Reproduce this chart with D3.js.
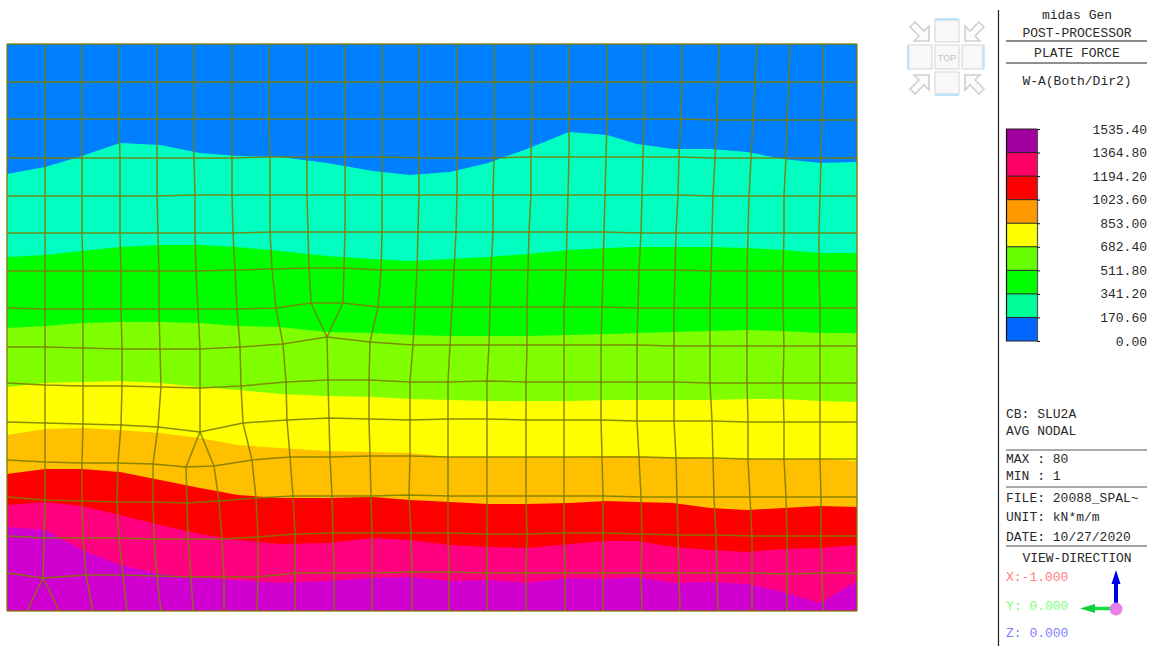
<!DOCTYPE html>
<html>
<head>
<meta charset="utf-8">
<title>midas Gen plate force contour</title>
<script src="https://cdn.jsdelivr.net/npm/d3@7"></script>
<style>
  html, body { margin: 0; padding: 0; background: #fff; }
  svg { display: block; }
  text { font-family: "Liberation Mono", "Courier New", monospace; font-size: 13px; fill: #2a2a2a; }
</style>
</head>
<body>
<div id="chart"></div>
<script>
// Contour bands, top of the plate to the bottom
const bandColors = ['#0080ff', '#00ffc0', '#00ff00', '#80ff00', '#ffff00', '#ffc000', '#ff0000', '#ff0080', '#d000d0'];

// Stations along the plate where the band limits were read
const stations = [0, 38, 75, 113, 153, 193, 231, 273, 320, 366, 403, 443, 481, 520, 562, 600, 630, 666, 703, 740, 776, 813, 850];

// Depth from the top edge of each band limit, at the stations above
const limit1 = [130, 123, 112, 99, 101, 109, 112, 113, 119, 127, 131, 128, 119, 105, 88, 91, 100, 105, 105, 108, 115, 119, 118];
const limit2 = [213, 211, 207, 203, 201, 201, 203, 207, 212, 215, 217, 215, 213, 210, 206, 204, 203, 203, 203, 204, 206, 209, 209];
const limit3 = [284, 282, 279, 278, 278, 279, 282, 283, 288, 289, 291, 292, 292, 292, 291, 290, 289, 288, 287, 286, 287, 289, 289];
const limit4 = [343, 339, 338, 337, 339, 343, 346, 350, 352, 353, 355, 356, 357, 357, 357, 356, 356, 356, 356, 355, 355, 357, 358];
const limit5 = [391, 385, 384, 386, 389, 394, 401, 404, 407, 408, 409, 413, 413, 413, 413, 412, 412, 413, 414, 415, 415, 415, 417];
const limit6 = [430, 425, 425, 428, 436, 444, 451, 454, 454, 453, 456, 458, 460, 460, 459, 457, 458, 459, 464, 466, 464, 462, 463];
const limit7 = [461, 458, 462, 471, 481, 490, 496, 500, 499, 494, 496, 501, 503, 504, 500, 497, 497, 503, 506, 508, 505, 504, 501];
const limit8 = [483, 486, 506, 521, 530, 534, 536, 539, 537, 534, 533, 537, 536, 539, 534, 535, 533, 539, 538, 540, 548, 559, 537];
const bandLimits = [limit1, limit2, limit3, limit4, limit5, limit6, limit7, limit8];

// Mesh nodes, one row per line across the plate
const meshX = [
  [0, 38, 75, 112, 150, 187, 225, 262, 300, 338, 375, 412, 450, 487, 525, 562, 600, 637, 675, 712, 750, 783, 816, 850],
  [0, 38, 75, 112, 150, 187, 225, 262, 300, 338, 375, 412, 450, 487, 525, 562, 600, 637, 675, 711, 748, 782, 816, 850],
  [0, 38, 75, 112, 150, 187, 225, 262, 300, 338, 375, 412, 450, 487, 525, 562, 600, 637, 674, 710, 746, 780, 815, 850],
  [0, 38, 75, 113, 150, 187, 225, 263, 300, 338, 375, 412, 450, 487, 524, 562, 599, 636, 672, 708, 744, 779, 814, 850],
  [0, 38, 75, 113, 150, 188, 225, 263, 300, 338, 375, 412, 450, 486, 524, 561, 598, 635, 671, 706, 742, 777, 813, 850],
  [0, 38, 75, 113, 151, 188, 226, 263, 301, 338, 375, 411, 449, 486, 522, 560, 597, 634, 669, 705, 741, 777, 812, 850],
  [0, 38, 76, 114, 152, 189, 228, 265, 302, 337, 374, 410, 447, 484, 521, 559, 596, 632, 668, 704, 740, 776, 812, 850],
  [0, 38, 76, 114, 152, 191, 230, 269, 304, 336, 371, 408, 445, 483, 520, 557, 595, 631, 667, 703, 740, 776, 813, 850],
  [0, 38, 76, 115, 153, 193, 233, 276, 320, 363, 406, 443, 482, 520, 557, 594, 630, 667, 703, 740, 777, 813, 850],
  [0, 38, 76, 115, 154, 193, 234, 279, 321, 362, 403, 441, 480, 519, 557, 594, 630, 667, 703, 740, 776, 813, 850],
  [0, 38, 76, 114, 151, 193, 236, 280, 322, 362, 403, 441, 480, 519, 557, 594, 630, 667, 705, 741, 777, 813, 850],
  [0, 38, 75, 111, 146, 179, 207, 245, 283, 323, 363, 403, 441, 480, 519, 557, 595, 632, 669, 706, 741, 777, 813, 850],
  [0, 38, 75, 110, 146, 180, 212, 249, 286, 325, 364, 402, 441, 480, 519, 557, 596, 634, 670, 707, 743, 779, 814, 850],
  [0, 37, 76, 112, 147, 181, 215, 251, 288, 326, 365, 404, 441, 480, 520, 557, 596, 635, 671, 709, 745, 780, 814, 850],
  [0, 36, 79, 116, 150, 184, 217, 251, 288, 327, 365, 405, 442, 480, 519, 558, 596, 634, 672, 710, 745, 780, 815, 850],
  [0, 20, 52, 86, 120, 154, 186, 217, 250, 288, 327, 365, 405, 442, 480, 519, 558, 596, 635, 673, 711, 745, 780, 816, 850]
];
const meshY = [
  [0, 0, 0, 0, 0, 0, 0, 0, 0, 0, 0, 0, 0, 0, 0, 0, 0, 0, 0, 0, 0, 0, 0, 0],
  [38, 38, 38, 38, 38, 38, 38, 38, 38, 38, 38, 38, 38, 38, 38, 38, 38, 38, 38, 38, 38, 38, 38, 38],
  [75, 75, 75, 75, 75, 75, 75, 75, 75, 75, 75, 75, 75, 75, 75, 75, 75, 75, 75, 76, 76, 76, 76, 76],
  [114, 114, 114, 114, 114, 114, 114, 113, 113, 113, 113, 114, 114, 114, 113, 113, 113, 113, 113, 114, 114, 114, 114, 114],
  [152, 152, 152, 152, 152, 151, 151, 151, 151, 151, 151, 151, 151, 151, 151, 151, 151, 151, 151, 152, 152, 152, 152, 152],
  [189, 189, 189, 189, 189, 189, 189, 188, 188, 188, 188, 188, 188, 188, 188, 188, 188, 189, 189, 189, 189, 189, 189, 189],
  [227, 227, 227, 227, 227, 227, 226, 225, 224, 224, 226, 226, 226, 226, 226, 226, 226, 226, 226, 227, 227, 227, 227, 227],
  [264, 265, 265, 265, 265, 265, 265, 264, 259, 259, 263, 263, 263, 263, 263, 263, 263, 264, 264, 264, 264, 264, 264, 264],
  [303, 303, 304, 305, 305, 305, 303, 300, 293, 298, 301, 301, 301, 301, 301, 301, 301, 302, 302, 302, 302, 302, 302],
  [339, 341, 342, 342, 343, 344, 342, 338, 336, 336, 338, 338, 337, 338, 338, 338, 338, 338, 339, 339, 339, 339, 339],
  [378, 379, 380, 381, 383, 388, 379, 376, 374, 375, 376, 375, 375, 376, 376, 376, 377, 377, 377, 378, 378, 378, 378],
  [416, 418, 419, 419, 420, 423, 422, 416, 413, 413, 412, 412, 413, 413, 413, 413, 413, 413, 414, 414, 415, 415, 415, 415],
  [453, 456, 457, 458, 458, 459, 457, 454, 452, 452, 452, 451, 452, 452, 452, 452, 452, 453, 453, 453, 453, 453, 453, 453],
  [492, 494, 494, 494, 495, 495, 495, 493, 490, 489, 489, 489, 489, 490, 490, 489, 489, 490, 491, 491, 492, 492, 492, 492],
  [529, 534, 531, 531, 532, 533, 533, 533, 529, 529, 529, 528, 528, 529, 529, 529, 529, 529, 529, 529, 529, 530, 529, 529],
  [567, 567, 567, 567, 567, 567, 567, 567, 567, 567, 567, 567, 567, 567, 567, 567, 567, 567, 567, 567, 567, 567, 567, 567, 567]
];
// Where two lines join (row 7, 10) or one splits (row 14): row -> node on the coarser row
const meshJoins = { 7: 8, 10: 5, 14: 1 };

// Legend
const legendValues = [1535.4, 1364.8, 1194.2, 1023.6, 853, 682.4, 511.8, 341.2, 170.6, 0];
const legendColors = ['#a000a0', '#ff0066', '#ff0000', '#ff9900', '#ffff00', '#66ff00', '#00ff00', '#00ff99', '#0066ff'];

const W = 1150, H = 646;
const svg = d3.select('#chart').append('svg').attr('width', W).attr('height', H);

const x = d3.scaleLinear().domain([0, 850]).range([7, 857]);
const y = d3.scaleLinear().domain([0, 567]).range([44, 611]);

// Bands: each one runs from its upper limit down to the bottom edge
const area = d3.area()
  .x((d, i) => x(stations[i]))
  .y0(y(567))
  .y1(d => d);

svg.append('rect')
  .attr('x', x(0)).attr('y', y(0))
  .attr('width', x(850) - x(0)).attr('height', y(567) - y(0))
  .attr('fill', bandColors[0]);

svg.append('g').selectAll('path')
  .data(bandLimits)
  .enter()
  .append('path')
  .attr('d', d => area(d.map(v => y(v))))
  .attr('fill', (d, i) => bandColors[i + 1]);

// Mesh
const meshColor = '#7c7c00';
const mesh = svg.append('g')
  .attr('fill', 'none')
  .attr('stroke', meshColor)
  .attr('stroke-width', 1.5)
  .attr('stroke-opacity', 0.88);

const rowLine = d3.line().x(d => x(d[0])).y(d => y(d[1]));
const rows = meshX.map((r, k) => r.map((v, i) => [v, meshY[k][i]]));

mesh.selectAll('path.row')
  .data(rows)
  .enter()
  .append('path')
  .attr('class', 'row')
  .attr('d', rowLine);

const links = [];
rows.slice(0, -1).forEach((upper, r) => {
  const lower = rows[r + 1];
  const at = meshJoins[r];
  if (upper.length > lower.length) {
    upper.forEach((p, i) => links.push([p, lower[i <= at ? i : i - 1]]));
  } else if (upper.length < lower.length) {
    upper.forEach((p, i) => {
      if (i === at) links.push([p, lower[i]], [p, lower[i + 1]]);
      else links.push([p, lower[i < at ? i : i + 1]]);
    });
  } else {
    upper.forEach((p, i) => links.push([p, lower[i]]));
  }
});

mesh.selectAll('path.col')
  .data(links)
  .enter()
  .append('path')
  .attr('class', 'col')
  .attr('d', rowLine);

// View cube
const cube = svg.append('g');
const cubeBoxes = [[935, 20, 24, 22], [908, 45, 24, 24], [935, 45, 24, 24], [962, 45, 22, 24], [935, 72, 24, 22]];
cube.selectAll('rect.box')
  .data(cubeBoxes)
  .enter()
  .append('rect')
  .attr('class', 'box')
  .attr('x', d => d[0]).attr('y', d => d[1])
  .attr('width', d => d[2]).attr('height', d => d[3])
  .attr('fill', '#f8f8f8')
  .attr('stroke', '#d4d4d4');
const cubeBars = [[935, 18, 24, 2.5], [907, 45, 2.5, 24], [982, 45, 2.5, 24], [935, 93.5, 24, 2.5]];
cube.selectAll('rect.bar')
  .data(cubeBars)
  .enter()
  .append('rect')
  .attr('class', 'bar')
  .attr('x', d => d[0]).attr('y', d => d[1])
  .attr('width', d => d[2]).attr('height', d => d[3])
  .attr('fill', '#bfe3fa');
cube.append('text')
  .attr('x', 947).attr('y', 61)
  .attr('text-anchor', 'middle')
  .style('font-family', '"Liberation Sans", sans-serif')
  .style('font-size', '9px')
  .style('fill', '#c4c4c4')
  .text('TOP');
// Corner arrows, drawn pointing down-right and turned into place
const cornerArrow = 'M-10,-5 L-5,-10 L4,-1 L9,-6 L9,9 L-6,9 L-1,4 Z';
const cubeArrows = [[920, 32, 0], [974, 32, 90], [920, 84, 270], [974, 84, 180]];
cube.selectAll('path.arrow')
  .data(cubeArrows)
  .enter()
  .append('path')
  .attr('class', 'arrow')
  .attr('d', cornerArrow)
  .attr('transform', d => `translate(${d[0]},${d[1]}) rotate(${d[2]})`)
  .attr('fill', '#fbfbfb')
  .attr('stroke', '#d0d0d0')
  .attr('stroke-width', 1.6);

// Side panel
const panel = svg.append('g');
panel.append('line')
  .attr('x1', 998.5).attr('x2', 998.5).attr('y1', 10).attr('y2', H)
  .attr('stroke', '#222').attr('stroke-width', 1.2);

const panelRules = [[41, '#666', 1.5], [63, '#222', 1], [450, '#555', 1], [487, '#555', 1], [546, '#444', 1]];
panel.selectAll('line.rule')
  .data(panelRules)
  .enter()
  .append('line')
  .attr('class', 'rule')
  .attr('x1', 1006).attr('x2', 1147)
  .attr('y1', d => d[0]).attr('y2', d => d[0])
  .attr('stroke', d => d[1])
  .attr('stroke-width', d => d[2]);

const centerText = [['midas Gen', 19], ['POST-PROCESSOR', 37], ['PLATE FORCE', 57], ['W-A(Both/Dir2)', 85], ['VIEW-DIRECTION', 562]];
panel.selectAll('text.center')
  .data(centerText)
  .enter()
  .append('text')
  .attr('class', 'center')
  .attr('x', 1077).attr('y', d => d[1])
  .attr('text-anchor', 'middle')
  .text(d => d[0]);

const leftText = [
  ['CB: SLU2A', 418, null], ['AVG NODAL', 435, null], ['MAX : 80', 463, null], ['MIN : 1', 480, null],
  ['FILE: 20088_SPAL~', 502, null], ['UNIT: kN*m/m', 521, null], ['DATE: 10/27/2020', 541, null],
  ['X:-1.000', 581, '#ff8080'], ['Y: 0.000', 610, '#80ff80'], ['Z: 0.000', 637, '#8080ff']
];
panel.selectAll('text.left')
  .data(leftText)
  .enter()
  .append('text')
  .attr('class', 'left')
  .attr('x', 1006).attr('y', d => d[1])
  .style('fill', d => d[2])
  .text(d => d[0]);

// Legend scale
const legendY = d3.scaleLinear().domain([0, 1535.4]).range([341, 129]);
const legend = panel.append('g');

legend.selectAll('rect')
  .data(legendColors)
  .enter()
  .append('rect')
  .attr('x', 1007).attr('width', 30)
  .attr('y', (d, i) => legendY(legendValues[i]))
  .attr('height', (d, i) => legendY(legendValues[i + 1]) - legendY(legendValues[i]))
  .attr('fill', d => d);

legend.append('line')
  .attr('x1', 1006.5).attr('x2', 1006.5).attr('y1', legendY(1535.4)).attr('y2', legendY(0))
  .attr('stroke', '#111').attr('stroke-width', 1.2);

legend.append('g')
  .attr('transform', 'translate(1037,0)')
  .call(d3.axisRight(legendY).tickValues(legendValues).tickSize(3).tickFormat(''))
  .call(g => g.select('.domain').attr('stroke', '#555').attr('stroke-width', 1.2))
  .call(g => g.selectAll('.tick line').attr('stroke', '#111'));

legend.selectAll('path.sep')
  .data(legendValues)
  .enter()
  .append('path')
  .attr('class', 'sep')
  .attr('d', d => `M1006,${legendY(d)}H1037`)
  .attr('stroke', '#222').attr('stroke-width', 1);

legend.selectAll('text.val')
  .data(legendValues)
  .enter()
  .append('text')
  .attr('class', 'val')
  .attr('x', 1147)
  .attr('y', d => legendY(d) + 4.5)
  .attr('text-anchor', 'end')
  .text(d => d3.format('.2f')(d));

// View direction axes
const axes = panel.append('g');
axes.append('path').attr('d', 'M1116,606V580').attr('stroke', '#0000e8').attr('stroke-width', 4);
axes.append('path').attr('d', 'M1116,570L1120.5,584H1111.5Z').attr('fill', '#0000e8');
axes.append('path').attr('d', 'M1110,608.5H1092').attr('stroke', '#10e040').attr('stroke-width', 3.5);
axes.append('path').attr('d', 'M1080,608.5L1095,604V613Z').attr('fill', '#10d040');
axes.append('circle').attr('cx', 1116).attr('cy', 609).attr('r', 6.5).attr('fill', '#e880e8');
</script>
</body>
</html>
